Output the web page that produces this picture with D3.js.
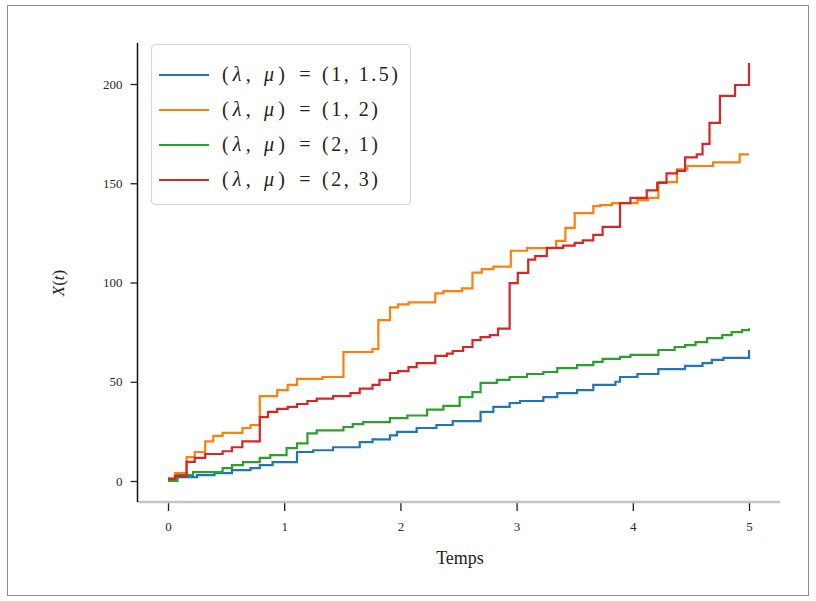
<!DOCTYPE html>
<html>
<head>
<meta charset="utf-8">
<script src="https://cdn.jsdelivr.net/npm/d3@7"></script>
<style>
  html, body { margin: 0; padding: 0; background: #fff; }
  svg { display: block; }
</style>
</head>
<body>
<svg id="chart" width="816" height="601"></svg>
<script>
// ---- data ----
const seriesLabels = ["(1, 1.5)", "(1, 2)", "(2, 1)", "(2, 3)"];
const seriesColors = ["#1f77b4", "#ff7f0e", "#2ca02c", "#d62728"];

const tBlue = [0,0.08,0.25,0.40,0.55,0.71,0.79,0.90,1.11,1.25,1.42,1.65,1.76,1.91,1.97,2.14,2.31,2.45,2.69,2.80,2.94,3.03,3.23,3.35,3.52,3.66,3.85,3.89,4.04,4.22,4.45,4.60,4.68,4.78,5];
const vBlue = [0.5,2,3,4,5.5,6.5,8,9.5,14.6,15.5,17,19.6,21,23,24.7,26.7,28.2,30.2,34.8,37.3,39.3,40.3,42.3,44.3,45.8,48.4,50,52.4,53.9,56.4,58,59.4,61,62,66];

const tOrange = [0,0.06,0.16,0.23,0.32,0.39,0.47,0.64,0.71,0.79,0.94,1.03,1.11,1.33,1.51,1.76,1.81,1.91,1.98,2.07,2.30,2.37,2.53,2.62,2.70,2.80,2.95,3.09,3.34,3.42,3.50,3.66,3.72,3.82,4.04,4.13,4.22,4.38,4.47,4.69,4.92,5];
const vOrange = [1.5,4,12,14.6,20,22.7,24.2,26.7,28.2,42.8,45.8,48.4,51.4,52.4,65,66.5,81,87.5,89,90,94.5,95.7,97,105,106.7,108,116,117.3,121,127.5,135,138.5,139,140,141.5,142.6,150.6,157,158.7,160.5,164.5,164.5];

const tGreen = [0,0.08,0.215,0.47,0.55,0.645,0.79,0.88,1.02,1.11,1.20,1.28,1.51,1.59,1.68,1.91,2.06,2.23,2.37,2.51,2.62,2.69,2.83,2.94,3.09,3.23,3.35,3.52,3.66,3.74,3.89,3.98,4.22,4.36,4.45,4.54,4.64,4.77,4.85,4.94,5];
const vGreen = [0,3,4.5,6.5,8,9.5,11.6,13,16.6,19,24,25.5,27.2,28.7,29.7,31.7,33,36,37.8,42.3,44.8,49.4,50.9,52.4,53.9,54.9,56.9,58.4,60,61.5,62.5,63.5,66,67.5,68.5,70,72,73.5,75,76,77];

const tRed = [0,0.06,0.16,0.23,0.32,0.47,0.55,0.64,0.79,0.86,0.94,1.03,1.11,1.20,1.28,1.42,1.57,1.65,1.76,1.82,1.91,1.98,2.07,2.14,2.30,2.40,2.45,2.54,2.62,2.69,2.77,2.84,2.94,3.01,3.10,3.16,3.26,3.40,3.50,3.57,3.66,3.74,3.89,3.98,4.12,4.21,4.29,4.38,4.45,4.55,4.60,4.66,4.75,4.88,5];
const vRed = [1,2.5,9.6,11.6,13.6,15,17,20,32.2,34.8,36.3,37.3,38.8,40.3,41.5,42.8,44.3,46.5,48.4,50.9,54.4,55.4,57.4,59.4,63,64.2,65.5,67.5,71,72.5,73.5,76.8,99.7,104.8,111.5,113.3,117.4,118.6,120,121.2,124,128,140,142.6,146.4,150.2,155,156.2,163,164.5,169.8,180.4,194,199.5,210.6];

const xTicks = [0, 1, 2, 3, 4, 5];
const yTicks = [0, 50, 100, 150, 200];
const xLabel = "Temps";

// ---- drawing ----
const svg = d3.select("#chart");
const serif = "'Liberation Serif', 'DejaVu Serif', serif";

// outer frame
svg.append("rect").attr("x", 7.5).attr("y", 5.5).attr("width", 801).attr("height", 590)
  .attr("fill", "none").attr("stroke", "#8c8c8c").attr("stroke-width", 1);

const x = d3.scaleLinear().domain([0, 5]).range([168, 749]);
const y = d3.scaleLinear().domain([0, 200]).range([481, 84]);

const spineX = 137.5, spineTop = 43, spineBottom = 502, spineRight = 780;

// series
const series = [
  [tBlue, vBlue], [tOrange, vOrange], [tGreen, vGreen], [tRed, vRed]
];
const line = d3.line().x(d => x(d[0])).y(d => y(d[1])).curve(d3.curveStepAfter);
series.forEach(([ts, vs], i) => {
  const pts = ts.map((t, k) => [t, vs[k]]);
  svg.append("path").datum(pts)
    .attr("d", line)
    .attr("fill", "none")
    .attr("stroke", seriesColors[i])
    .attr("stroke-width", 2.2)
    .attr("stroke-linejoin", "miter");
});

// y axis
const yAxis = svg.append("g").attr("transform", `translate(${spineX},0)`)
  .call(d3.axisLeft(y).tickValues(yTicks).tickSize(7).tickPadding(8).tickFormat(d3.format("d")));
yAxis.select(".domain").remove();
yAxis.selectAll(".tick line").attr("stroke", "#222").attr("stroke-width", 1.3);
yAxis.selectAll(".tick text").attr("font-family", serif).attr("font-size", 13).attr("fill", "#2a2a2a");

// x axis
const xAxis = svg.append("g").attr("transform", `translate(0,${spineBottom})`)
  .call(d3.axisBottom(x).tickValues(xTicks).tickSize(9).tickPadding(11).tickFormat(d3.format("d")));
xAxis.select(".domain").remove();
xAxis.selectAll(".tick line").attr("stroke", "#222").attr("stroke-width", 1.3);
xAxis.selectAll(".tick text").attr("font-family", serif).attr("font-size", 13).attr("fill", "#2a2a2a");

// spines
svg.append("line").attr("x1", spineX).attr("x2", spineRight).attr("y1", spineBottom).attr("y2", spineBottom)
  .attr("stroke", "#c4c4c4").attr("stroke-width", 2.5);
svg.append("line").attr("x1", spineX).attr("x2", spineX).attr("y1", spineTop).attr("y2", spineBottom)
  .attr("stroke", "#111").attr("stroke-width", 1.5);

// axis labels
svg.append("text").attr("x", 460).attr("y", 564).attr("text-anchor", "middle")
  .attr("font-family", serif).attr("font-size", 18).attr("fill", "#222").text(xLabel);

const yl = svg.append("text").attr("transform", "translate(64,283) rotate(-90)")
  .attr("text-anchor", "middle").attr("font-family", serif).attr("font-size", 17).attr("fill", "#222");
yl.append("tspan").attr("font-style", "italic").text("X");
yl.append("tspan").text("(");
yl.append("tspan").attr("font-style", "italic").text("t");
yl.append("tspan").text(")");

// legend
const lg = svg.append("g");
lg.append("rect").attr("x", 151.5).attr("y", 44.5).attr("width", 259).attr("height", 160)
  .attr("rx", 4).attr("fill", "#fff").attr("fill-opacity", 0.85)
  .attr("stroke", "#d6d6d6").attr("stroke-width", 1.2);
const legY = [75, 110, 145, 180];
seriesLabels.forEach((lab, i) => {
  lg.append("line").attr("x1", 159).attr("x2", 209).attr("y1", legY[i]).attr("y2", legY[i])
    .attr("stroke", seriesColors[i]).attr("stroke-width", 2.2);
  const base = legY[i] + 6;
  const t1 = lg.append("text").attr("x", 222).attr("y", base)
    .attr("font-family", serif).attr("font-size", 20).attr("fill", "#222")
    .attr("textLength", 63).attr("lengthAdjust", "spacing");
  t1.append("tspan").text("(");
  t1.append("tspan").attr("font-style", "italic").text("λ");
  t1.append("tspan").text(", ");
  t1.append("tspan").attr("font-style", "italic").text("μ");
  t1.append("tspan").text(")");
  lg.append("text").attr("x", 305).attr("y", base).attr("text-anchor", "middle")
    .attr("font-family", serif).attr("font-size", 20).attr("fill", "#222").text("=");
  lg.append("text").attr("x", 322).attr("y", base)
    .attr("font-family", serif).attr("font-size", 20).attr("fill", "#222")
    .attr("textLength", lab.length > 6 ? 76 : 56).attr("lengthAdjust", "spacing")
    .text(lab);
});
</script>
</body>
</html>
